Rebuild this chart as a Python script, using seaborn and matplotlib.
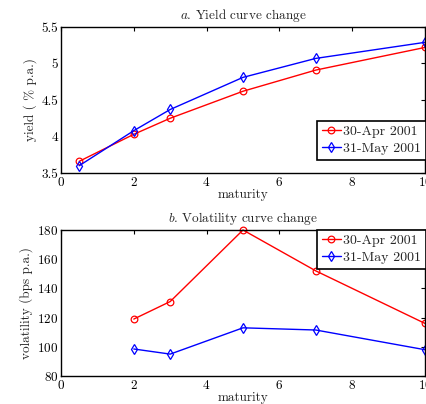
import matplotlib
matplotlib.use("Agg")
import matplotlib.pyplot as plt
from matplotlib.ticker import FuncFormatter
import pandas as pd
import seaborn as sns

# Yield curve (top panel)
maturity_yield = [0.5, 2, 3, 5, 7, 10]
yield_apr = [3.66, 4.03, 4.25, 4.62, 4.91, 5.22]
yield_may = [3.60, 4.08, 4.37, 4.81, 5.07, 5.29]

# Volatility curve (bottom panel)
maturity_vol = [2, 3, 5, 7, 10]
vol_apr = [119, 131, 180, 152, 116]
vol_may = [98.5, 95, 113, 111.5, 98]

labels = ["30-Apr 2001", "31-May 2001"]
colors = ["#ff0000", "#0000ff"]
markers = ["o", "d"]

sns.set_theme(style="white")
plt.rcParams.update({
    "font.family": ["cmr10", "DejaVu Serif"],
    "mathtext.fontset": "cm",
    "axes.formatter.use_mathtext": True,
    "axes.edgecolor": "black",
    "axes.linewidth": 1.0,
    "xtick.direction": "in",
    "ytick.direction": "in",
    "xtick.top": True,
    "ytick.right": True,
    "xtick.major.size": 3,
    "ytick.major.size": 3,
    "xtick.major.width": 0.8,
    "ytick.major.width": 0.8,
    "xtick.color": "black",
    "ytick.color": "black",
    "xtick.labelsize": 9.5,
    "ytick.labelsize": 9.5,
    "axes.labelsize": 9.5,
    "axes.titlesize": 9.5,
})

fig = plt.figure(figsize=(4.27, 4.04), dpi=100)
ax1 = fig.add_axes([61 / 427, 1 - 173 / 404, 364 / 427, 146 / 404])
ax2 = fig.add_axes([61 / 427, 1 - 376 / 404, 364 / 427, 146 / 404])


def draw(ax, x, series):
    for vals, lab, col, mk in zip(series, labels, colors, markers):
        df = pd.DataFrame({"maturity": x, "value": vals})
        sns.lineplot(data=df, x="maturity", y="value", ax=ax, color=col,
                     marker=mk, markersize=4.8 if mk == "o" else 5.5,
                     markerfacecolor="none", markeredgecolor=col,
                     markeredgewidth=0.9, linewidth=1.0, label=lab,
                     clip_on=False)


legend_kw = dict(fontsize=10, frameon=True, fancybox=False, edgecolor="black",
                 framealpha=1, handlelength=1.4, handletextpad=0.15,
                 borderpad=0.35, labelspacing=0.3, borderaxespad=0.0)

draw(ax1, maturity_yield, [yield_apr, yield_may])
ax1.set_xlim(0, 10)
ax1.set_ylim(3.5, 5.5)
ax1.set_xticks(range(0, 11, 2))
ax1.set_yticks([3.5, 4, 4.5, 5, 5.5])
ax1.yaxis.set_major_formatter(FuncFormatter(lambda v, p: f"{v:g}"))
ax1.set_xlabel("maturity", labelpad=0)
ax1.set_ylabel("yield ( % p.a.)", labelpad=3)
ax1.set_title(r"$a$. Yield curve change", pad=6)
ax1.legend(loc="lower right", bbox_to_anchor=(1.003, 0.09),
           **legend_kw).get_frame().set_linewidth(1.2)

draw(ax2, maturity_vol, [vol_apr, vol_may])
ax2.set_xlim(0, 10)
ax2.set_ylim(80, 180)
ax2.set_xticks(range(0, 11, 2))
ax2.set_yticks(range(80, 181, 20))
ax2.set_xlabel("maturity", labelpad=0)
ax2.set_ylabel("volatility (bps p.a.)", labelpad=3)
ax2.set_title(r"$b$. Volatility curve change", pad=6)
ax2.legend(loc="upper right", bbox_to_anchor=(1.003, 1.003),
           **legend_kw).get_frame().set_linewidth(1.2)

for ax in (ax1, ax2):
    for s in ax.spines.values():
        s.set_color("black")
    ax.tick_params(pad=2)

fig.savefig("out.png", dpi=100)
